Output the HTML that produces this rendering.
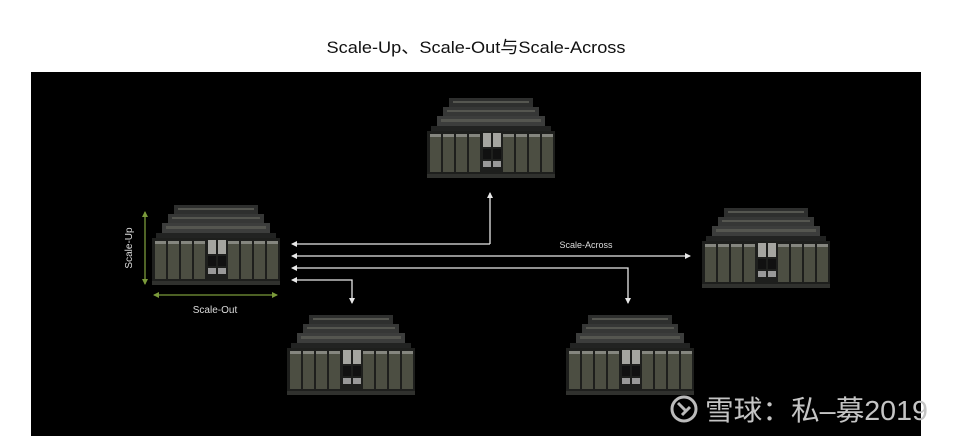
<!DOCTYPE html>
<html><head><meta charset="utf-8"><style>
html,body{margin:0;padding:0;background:#fff;width:956px;height:440px;overflow:hidden}
svg{display:block}
</style></head><body>
<svg width="956" height="440" viewBox="0 0 956 440" xmlns="http://www.w3.org/2000/svg">
<defs>
<g id="c">
  <rect x="22" y="0" width="84" height="9" fill="#2e2f2e"/>
  <rect x="16" y="9" width="96" height="9" fill="#363736"/>
  <rect x="10" y="18" width="108" height="10" fill="#3c3d3c"/>
  <rect x="4" y="28" width="120" height="7" fill="#222322"/>
  <g fill="#555650"><rect x="26" y="3" width="76" height="2"/><rect x="20" y="12" width="88" height="2"/><rect x="14" y="21" width="100" height="3"/></g>
  <rect x="0" y="33" width="128" height="46" fill="#1e1f1d"/>
  <g fill="#4c4e42">
    <rect x="3" y="38" width="11" height="36"/><rect x="16" y="38" width="11" height="36"/><rect x="29" y="38" width="11" height="36"/><rect x="42" y="38" width="11" height="36"/>
    <rect x="76" y="38" width="11" height="36"/><rect x="89" y="38" width="11" height="36"/><rect x="102" y="38" width="11" height="36"/><rect x="115" y="38" width="11" height="36"/>
  </g>
  <g fill="#85867f">
    <rect x="3" y="36" width="11" height="3"/><rect x="16" y="36" width="11" height="3"/><rect x="29" y="36" width="11" height="3"/><rect x="42" y="36" width="11" height="3"/>
    <rect x="76" y="36" width="11" height="3"/><rect x="89" y="36" width="11" height="3"/><rect x="102" y="36" width="11" height="3"/><rect x="115" y="36" width="11" height="3"/>
  </g>
  <rect x="56" y="35" width="8" height="14" fill="#a5a5a0"/><rect x="66" y="35" width="8" height="14" fill="#a5a5a0"/>
  <rect x="56" y="51" width="8" height="10" fill="#111"/><rect x="66" y="51" width="8" height="10" fill="#111"/>
  <rect x="56" y="63" width="8" height="6" fill="#999"/><rect x="66" y="63" width="8" height="6" fill="#999"/>
  <rect x="0" y="76" width="128" height="4" fill="#30312e"/>
</g>
<marker id="a" markerWidth="6" markerHeight="6" refX="5" refY="3" orient="auto" markerUnits="userSpaceOnUse"><path d="M0,0 L6,3 L0,6 z" fill="#e8e8e8"/></marker>
<marker id="g" markerWidth="6" markerHeight="6" refX="5" refY="3" orient="auto" markerUnits="userSpaceOnUse"><path d="M0,0 L6,3 L0,6 z" fill="#7a9a3a"/></marker>
</defs>
<text x="476" y="53" font-family="Liberation Sans, Noto Sans CJK SC, sans-serif" font-size="17" text-anchor="middle" fill="#111" textLength="299" lengthAdjust="spacingAndGlyphs">Scale-Up、Scale-Out与Scale-Across</text>
<rect x="31" y="72" width="890" height="364" fill="#000"/>
<use href="#c" x="427" y="98"/>
<use href="#c" x="152" y="205"/>
<use href="#c" x="702" y="208"/>
<use href="#c" x="287" y="315"/>
<use href="#c" x="566" y="315"/>
<g stroke="#e8e8e8" stroke-width="1.3" fill="none">
  <path d="M490,244 L292,244" marker-end="url(#a)"/>
  <path d="M490,244 L490,193" marker-end="url(#a)"/>
  <path d="M400,256 L292,256" marker-end="url(#a)"/>
  <path d="M400,256 L690,256" marker-end="url(#a)"/>
  <path d="M400,268 L292,268" marker-end="url(#a)"/>
  <path d="M400,268 L628,268 L628,303" marker-end="url(#a)"/>
  <path d="M320,280 L292,280" marker-end="url(#a)"/>
  <path d="M320,280 L352,280 L352,303" marker-end="url(#a)"/>
</g>
<text x="586" y="248" font-family="Liberation Sans, sans-serif" font-size="9" text-anchor="middle" fill="#ddd">Scale-Across</text>
<g stroke="#7a9a3a" stroke-width="1.3">
  <path d="M145,248 L145,212" marker-end="url(#g)"/>
  <path d="M145,248 L145,284" marker-end="url(#g)"/>
  <path d="M215,295 L154,295" marker-end="url(#g)"/>
  <path d="M215,295 L277,295" marker-end="url(#g)"/>
</g>
<text x="0" y="0" transform="translate(132,248) rotate(-90)" font-family="Liberation Sans, sans-serif" font-size="10" text-anchor="middle" fill="#ddd">Scale-Up</text>
<text x="215" y="313" font-family="Liberation Sans, sans-serif" font-size="10" text-anchor="middle" fill="#ddd">Scale-Out</text>
<g fill="none" stroke="#bbb" stroke-width="3">
  <circle cx="684" cy="409" r="12"/>
  <path d="M678,403 L686,411 M682,415 L690,407"/>
</g>
<text x="705" y="420" font-family="Liberation Sans, Noto Sans CJK SC, sans-serif" font-size="28" fill="#c4c4c4" textLength="223" lengthAdjust="spacingAndGlyphs">雪球：私–募2019</text>
</svg>
</body></html>
